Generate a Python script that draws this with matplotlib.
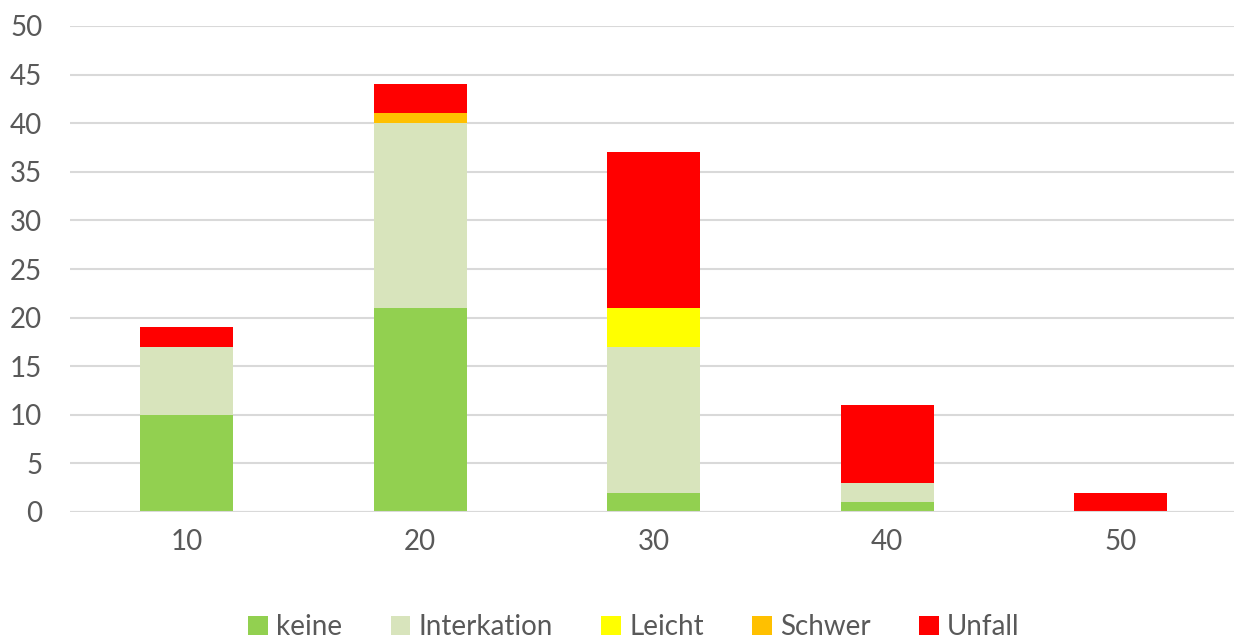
import matplotlib
matplotlib.use("Agg")
import matplotlib.pyplot as plt
import numpy as np

categories = ["10", "20", "30", "40", "50"]
keine = [10, 21, 2, 1, 0]
interkation = [7, 19, 15, 2, 0]
leicht = [0, 0, 4, 0, 0]
schwer = [0, 1, 0, 0, 0]
unfall = [2, 3, 16, 8, 2]

series = [("keine", keine, "#92D050"),
          ("Interkation", interkation, "#D8E4BC"),
          ("Leicht", leicht, "#FFFF00"),
          ("Schwer", schwer, "#FFC000"),
          ("Unfall", unfall, "#FF0000")]

plt.rcParams['font.family'] = ['Lato', 'DejaVu Sans']
txt = "#595959"

fig = plt.figure(figsize=(12.34, 6.39), dpi=100)
ax = fig.add_axes([70/1234, 127/639, 1167.5/1234, 486/639])

x = np.arange(len(categories))
bottom = np.zeros(len(categories))
for name, vals, col in series:
    ax.bar(x, vals, 0.4, bottom=bottom, color=col, label=name, zorder=3)
    bottom += np.array(vals)

ax.set_xlim(-0.5, 4.5)
ax.set_ylim(0, 50)
ax.set_yticks(range(0, 51, 5))
ax.set_xticks(x)
ax.set_xticklabels(categories)
ax.yaxis.grid(True, color="#D9D9D9", linewidth=1.5, zorder=0)
for s in ax.spines.values():
    s.set_visible(False)
ax.axhline(0, color="#D9D9D9", linewidth=1.5, zorder=4)
ax.tick_params(axis='both', length=0, labelsize=20, colors=txt)
ax.tick_params(axis='y', pad=20)
ax.tick_params(axis='x', pad=12)

leg = fig.legend(loc='center', bbox_to_anchor=(634/1234, 1 - 627/639), ncol=5,
                 frameon=False, fontsize=20, handlelength=0.7, handleheight=0.7,
                 handletextpad=0.3, columnspacing=1.75, borderaxespad=0)
for t in leg.get_texts():
    t.set_color(txt)

fig.savefig("out.png", dpi=100)
